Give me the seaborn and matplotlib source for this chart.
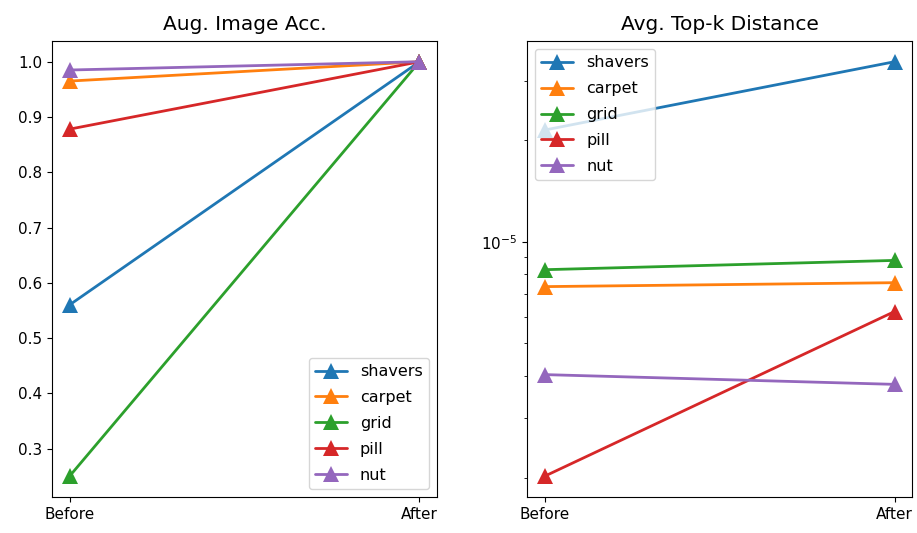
import matplotlib
matplotlib.use("Agg")
import matplotlib.pyplot as plt
import seaborn as sns
import pandas as pd
import numpy as np

stages = ["Before", "After"]
categories = ["shavers", "carpet", "grid", "pill", "nut"]
acc_before = [0.56, 0.965, 0.25, 0.878, 0.985]
acc_after = [1.0, 1.0, 1.0, 1.0, 1.0]
dist_before = [2.14e-5, 7.36e-6, 8.26e-6, 2.02e-6, 4.04e-6]
dist_after = [3.41e-5, 7.56e-6, 8.8e-6, 6.21e-6, 3.78e-6]

def make_df(before, after):
    rows = []
    for c, b, a in zip(categories, before, after):
        rows.append({"cat": c, "x": 0, "v": b})
        rows.append({"cat": c, "x": 1, "v": a})
    return pd.DataFrame(rows)

sns.set_style("ticks", rc={
    "axes.edgecolor": "black", "text.color": "black", "axes.labelcolor": "black",
    "xtick.color": "black", "ytick.color": "black", "axes.linewidth": 1.0,
})
plt.rcParams['font.family'] = ['DejaVu Sans']
palette = sns.color_palette("tab10", 5)

fig = plt.figure(figsize=(9.17, 5.33), dpi=100)
W, H = 917, 533
ax0 = fig.add_axes([52 / W, 36 / H, 385 / W, 456 / H])
ax1 = fig.add_axes([527 / W, 36 / H, 385 / W, 456 / H])
axes = [ax0, ax1]

for ax, (b, a), title, loc in zip(axes, [(acc_before, acc_after), (dist_before, dist_after)],
                                   ["Aug. Image Acc.", "Avg. Top-k Distance"],
                                   ["lower right", "upper left"]):
    df = make_df(b, a)
    sns.lineplot(data=df, x="x", y="v", hue="cat", hue_order=categories, palette=palette,
                 marker="^", markersize=11, markeredgewidth=0, linewidth=2, ax=ax)
    ax.set_title(title, fontsize=14.5, pad=8)
    ax.set_xticks([0, 1])
    ax.set_xticklabels(stages)
    ax.set_xlabel("")
    ax.set_ylabel("")
    ax.tick_params(labelsize=11)
    ax.legend(loc=loc, fontsize=11.5, title=None, labelspacing=0.68)

axes[1].set_yscale("log")
axes[1].set_xlim(axes[0].get_xlim())

fig.savefig("out.png", dpi=100)
